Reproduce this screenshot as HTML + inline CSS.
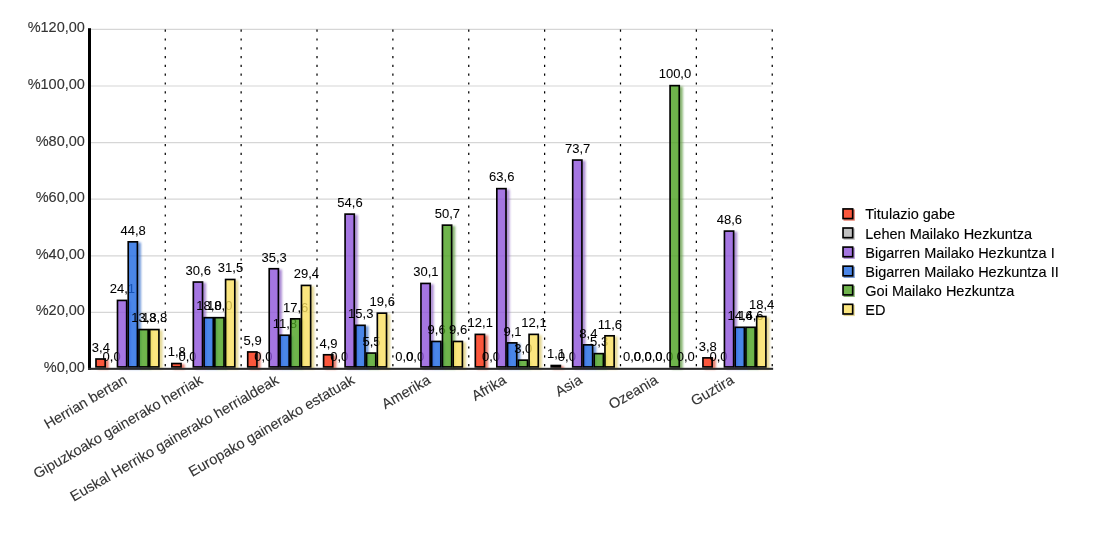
<!DOCTYPE html>
<html><head><meta charset="utf-8"><title>Chart</title>
<style>html,body{margin:0;padding:0;background:#fff;overflow:hidden}body{width:1100px;height:550px;font-family:"Liberation Sans",sans-serif}svg{display:block;will-change:transform;font-family:"Liberation Sans",sans-serif}text{font-family:"Liberation Sans",sans-serif}</style>
</head><body>
<svg width="1100" height="550" viewBox="0 0 1100 550">
<defs><filter id="bl" x="-60%" y="-20%" width="220%" height="140%"><feGaussianBlur stdDeviation="0.8"/></filter><clipPath id="cp"><rect x="0" y="0" width="1100" height="366.95"/></clipPath><filter id="bl2" x="-50%" y="-50%" width="200%" height="200%"><feGaussianBlur stdDeviation="0.6"/></filter></defs>
<rect width="1100" height="550" fill="#fff"/>
<g stroke="#d6d6d6" stroke-width="1.2">
<line x1="89.5" x2="771.53" y1="369" y2="369"/>
<line x1="89.5" x2="771.53" y1="312.4" y2="312.4"/>
<line x1="89.5" x2="771.53" y1="255.8" y2="255.8"/>
<line x1="89.5" x2="771.53" y1="199.2" y2="199.2"/>
<line x1="89.5" x2="771.53" y1="142.6" y2="142.6"/>
<line x1="89.5" x2="771.53" y1="86" y2="86"/>
<line x1="89.5" x2="771.53" y1="29.4" y2="29.4"/>
</g>
<g stroke="#000" stroke-width="1.25" stroke-dasharray="2.2 6.6">
<line x1="165.27" x2="165.27" y1="29.6" y2="368"/>
<line x1="241.14" x2="241.14" y1="29.6" y2="368"/>
<line x1="317.01" x2="317.01" y1="29.6" y2="368"/>
<line x1="392.88" x2="392.88" y1="29.6" y2="368"/>
<line x1="468.75" x2="468.75" y1="29.6" y2="368"/>
<line x1="544.62" x2="544.62" y1="29.6" y2="368"/>
<line x1="620.49" x2="620.49" y1="29.6" y2="368"/>
<line x1="696.36" x2="696.36" y1="29.6" y2="368"/>
<line x1="772.23" x2="772.23" y1="29.6" y2="368"/>
</g>
<g font-size="14.5" fill="#333" stroke="#333" stroke-width="0.12" text-anchor="end">
<text x="84.9" y="372">%0,00</text>
<text x="84.9" y="315.4">%20,00</text>
<text x="84.9" y="258.8">%40,00</text>
<text x="84.9" y="202.2">%60,00</text>
<text x="84.9" y="145.6">%80,00</text>
<text x="84.9" y="89">%100,00</text>
<text x="84.9" y="32.4">%120,00</text>
</g>
<g opacity="0.75" filter="url(#bl)" fill="#dc4c34">
<path d="M104.65 359.78H108.7V369.35H97.85V367.15H104.65Z"/>
<path d="M180.52 364.31H184.57V369.35H173.72V367.15H180.52Z"/>
<path d="M256.39 352.7H260.44V369.35H249.59V367.15H256.39Z"/>
<path d="M332.26 355.53H336.31V369.35H325.46V367.15H332.26Z"/>
<path d="M484 335.16H488.05V369.35H477.2V367.15H484Z"/>
<path d="M559.87 366.29H563.92V369.35H553.07V367.15H559.87Z"/>
<path d="M711.61 358.65H715.66V369.35H704.81V367.15H711.61Z"/>
</g>
<g stroke="#000" stroke-width="1.65" fill="#fa2d0b" fill-opacity="0.8">
<rect x="95.98" y="359" width="9.2" height="7.92"/>
<rect x="171.84" y="363.53" width="9.2" height="3.39"/>
<rect x="247.72" y="351.93" width="9.2" height="15"/>
<rect x="323.58" y="354.76" width="9.2" height="12.17"/>
<rect x="475.32" y="334.38" width="9.2" height="32.54"/>
<rect x="551.2" y="365.51" width="9.2" height="1.41"/>
<rect x="702.94" y="357.87" width="9.2" height="9.05"/>
</g>
<g font-size="13.0" fill="#000" stroke="#000" stroke-width="0.06" text-anchor="middle">
<text x="100.88" y="351.78">3,4</text>
<text x="176.75" y="356.31">1,8</text>
<text x="252.62" y="344.7">5,9</text>
<text x="328.49" y="347.53">4,9</text>
<text x="404.36" y="361.4">0,0</text>
<text x="480.23" y="327.16">12,1</text>
<text x="556.09" y="358.29">1,1</text>
<text x="631.96" y="361.4">0,0</text>
<text x="707.83" y="350.65">3,8</text>
</g>
<g opacity="0.75" filter="url(#bl)" fill="#a8a8a8">
</g>
<g stroke="#000" stroke-width="1.65" fill="#b0b0b0" fill-opacity="0.8">
</g>
<g font-size="13.0" fill="#000" stroke="#000" stroke-width="0.06" text-anchor="middle">
<text x="111.62" y="361.4">0,0</text>
<text x="187.5" y="361.4">0,0</text>
<text x="263.37" y="361.4">0,0</text>
<text x="339.24" y="361.4">0,0</text>
<text x="415.11" y="361.4">0,0</text>
<text x="490.98" y="361.4">0,0</text>
<text x="566.84" y="361.4">0,0</text>
<text x="642.71" y="361.4">0,0</text>
<text x="718.58" y="361.4">0,0</text>
</g>
<g opacity="0.75" filter="url(#bl)" fill="#9167c6">
<path d="M126.15 301.2H130.2V369.35H119.35V367.15H126.15Z"/>
<path d="M202.02 282.8H206.07V369.35H195.22V367.15H202.02Z"/>
<path d="M277.89 269.5H281.94V369.35H271.09V367.15H277.89Z"/>
<path d="M353.76 214.88H357.81V369.35H346.96V367.15H353.76Z"/>
<path d="M429.63 284.22H433.68V369.35H422.83V367.15H429.63Z"/>
<path d="M505.5 189.41H509.55V369.35H498.7V367.15H505.5Z"/>
<path d="M581.37 160.83H585.42V369.35H574.57V367.15H581.37Z"/>
<path d="M733.11 231.86H737.16V369.35H726.31V367.15H733.11Z"/>
</g>
<g stroke="#000" stroke-width="1.65" fill="#8e54db" fill-opacity="0.8">
<rect x="117.48" y="300.42" width="9.2" height="66.5"/>
<rect x="193.34" y="282.03" width="9.2" height="84.9"/>
<rect x="269.21" y="268.73" width="9.2" height="98.2"/>
<rect x="345.08" y="214.11" width="9.2" height="152.82"/>
<rect x="420.95" y="283.44" width="9.2" height="83.48"/>
<rect x="496.82" y="188.64" width="9.2" height="178.29"/>
<rect x="572.7" y="160.05" width="9.2" height="206.87"/>
<rect x="724.44" y="231.09" width="9.2" height="135.84"/>
</g>
<g font-size="13.0" fill="#000" stroke="#000" stroke-width="0.06" text-anchor="middle">
<text x="122.38" y="293.2">24,1</text>
<text x="198.25" y="274.8">30,6</text>
<text x="274.12" y="261.5">35,3</text>
<text x="349.99" y="206.88">54,6</text>
<text x="425.86" y="276.22">30,1</text>
<text x="501.73" y="181.41">63,6</text>
<text x="577.59" y="152.83">73,7</text>
<text x="653.46" y="361.4">0,0</text>
<text x="729.33" y="223.86">48,6</text>
</g>
<g opacity="0.75" filter="url(#bl)" fill="#4175cc">
<path d="M136.9 242.62H140.95V369.35H130.1V367.15H136.9Z"/>
<path d="M212.77 318.46H216.82V369.35H205.97V367.15H212.77Z"/>
<path d="M288.64 336.01H292.69V369.35H281.84V367.15H288.64Z"/>
<path d="M364.51 326.1H368.56V369.35H357.71V367.15H364.51Z"/>
<path d="M440.38 342.23H444.43V369.35H433.58V367.15H440.38Z"/>
<path d="M516.25 343.65H520.3V369.35H509.45V367.15H516.25Z"/>
<path d="M592.12 345.63H596.17V369.35H585.32V367.15H592.12Z"/>
<path d="M743.86 328.08H747.91V369.35H737.06V367.15H743.86Z"/>
</g>
<g stroke="#000" stroke-width="1.65" fill="#1d68e2" fill-opacity="0.8">
<rect x="128.22" y="241.84" width="9.2" height="125.08"/>
<rect x="204.09" y="317.69" width="9.2" height="49.24"/>
<rect x="279.96" y="335.23" width="9.2" height="31.69"/>
<rect x="355.83" y="325.33" width="9.2" height="41.6"/>
<rect x="431.7" y="341.46" width="9.2" height="25.47"/>
<rect x="507.57" y="342.87" width="9.2" height="24.05"/>
<rect x="583.45" y="344.85" width="9.2" height="22.07"/>
<rect x="735.19" y="327.31" width="9.2" height="39.62"/>
</g>
<g font-size="13.0" fill="#000" stroke="#000" stroke-width="0.06" text-anchor="middle">
<text x="133.13" y="234.62">44,8</text>
<text x="209" y="310.46">18,0</text>
<text x="284.87" y="328.01">11,8</text>
<text x="360.74" y="318.1">15,3</text>
<text x="436.61" y="334.23">9,6</text>
<text x="512.47" y="335.65">9,1</text>
<text x="588.34" y="337.63">8,4</text>
<text x="664.21" y="361.4">0,0</text>
<text x="740.08" y="320.08">14,6</text>
</g>
<g opacity="0.75" filter="url(#bl)" fill="#619e42">
<path d="M147.65 330.35H151.7V369.35H140.85V367.15H147.65Z"/>
<path d="M223.52 318.46H227.57V369.35H216.72V367.15H223.52Z"/>
<path d="M299.39 319.59H303.44V369.35H292.59V367.15H299.39Z"/>
<path d="M375.26 353.84H379.31V369.35H368.46V367.15H375.26Z"/>
<path d="M451.13 225.92H455.18V369.35H444.33V367.15H451.13Z"/>
<path d="M527 360.91H531.05V369.35H520.2V367.15H527Z"/>
<path d="M602.87 354.4H606.92V369.35H596.07V367.15H602.87Z"/>
<path d="M678.74 86.4H682.79V369.35H671.94V367.15H678.74Z"/>
<path d="M754.61 328.08H758.66V369.35H747.81V367.15H754.61Z"/>
</g>
<g stroke="#000" stroke-width="1.65" fill="#4ba11f" fill-opacity="0.8">
<rect x="138.97" y="329.57" width="9.2" height="37.35"/>
<rect x="214.84" y="317.69" width="9.2" height="49.24"/>
<rect x="290.71" y="318.82" width="9.2" height="48.11"/>
<rect x="366.58" y="353.06" width="9.2" height="13.86"/>
<rect x="442.45" y="225.14" width="9.2" height="141.78"/>
<rect x="518.33" y="360.13" width="9.2" height="6.79"/>
<rect x="594.2" y="353.63" width="9.2" height="13.3"/>
<rect x="670.07" y="85.63" width="9.2" height="281.3"/>
<rect x="745.94" y="327.31" width="9.2" height="39.62"/>
</g>
<g font-size="13.0" fill="#000" stroke="#000" stroke-width="0.06" text-anchor="middle">
<text x="143.88" y="322.35">13,8</text>
<text x="219.75" y="310.46">18,0</text>
<text x="295.62" y="311.59">17,6</text>
<text x="371.49" y="345.84">5,5</text>
<text x="447.36" y="217.92">50,7</text>
<text x="523.22" y="352.91">3,0</text>
<text x="599.09" y="346.4">5,3</text>
<text x="674.96" y="78.4">100,0</text>
<text x="750.83" y="320.08">14,6</text>
</g>
<g opacity="0.75" filter="url(#bl)" fill="#dcca6f">
<path d="M158.4 330.35H162.45V369.35H151.6V367.15H158.4Z"/>
<path d="M234.27 280.26H238.32V369.35H227.47V367.15H234.27Z"/>
<path d="M310.14 286.2H314.19V369.35H303.34V367.15H310.14Z"/>
<path d="M386.01 313.93H390.06V369.35H379.21V367.15H386.01Z"/>
<path d="M461.88 342.23H465.93V369.35H455.08V367.15H461.88Z"/>
<path d="M537.75 335.16H541.8V369.35H530.95V367.15H537.75Z"/>
<path d="M613.62 336.57H617.67V369.35H606.82V367.15H613.62Z"/>
<path d="M765.36 317.33H769.41V369.35H758.56V367.15H765.36Z"/>
</g>
<g stroke="#000" stroke-width="1.65" fill="#fae05f" fill-opacity="0.8">
<rect x="149.72" y="329.57" width="9.2" height="37.35"/>
<rect x="225.59" y="279.48" width="9.2" height="87.44"/>
<rect x="301.46" y="285.42" width="9.2" height="81.5"/>
<rect x="377.33" y="313.16" width="9.2" height="53.77"/>
<rect x="453.2" y="341.46" width="9.2" height="25.47"/>
<rect x="529.08" y="334.38" width="9.2" height="32.54"/>
<rect x="604.95" y="335.8" width="9.2" height="31.13"/>
<rect x="756.69" y="316.55" width="9.2" height="50.37"/>
</g>
<g font-size="13.0" fill="#000" stroke="#000" stroke-width="0.06" text-anchor="middle">
<text x="154.63" y="322.35">13,8</text>
<text x="230.5" y="272.26">31,5</text>
<text x="306.37" y="278.2">29,4</text>
<text x="382.24" y="305.93">19,6</text>
<text x="458.11" y="334.23">9,6</text>
<text x="533.97" y="327.16">12,1</text>
<text x="609.84" y="328.57">11,6</text>
<text x="685.71" y="361.4">0,0</text>
<text x="761.58" y="309.33">18,4</text>
</g>
<rect x="88" y="28.2" width="3" height="341.6" fill="#000"/>
<rect x="88" y="367.8" width="685.13" height="2.05" fill="#2b2b2b"/>
<g font-size="14.5" fill="#333" stroke="#333" stroke-width="0.12" text-anchor="end">
<text transform="translate(127.94,382.8) rotate(-30)">Herrian bertan</text>
<text transform="translate(203.81,382.8) rotate(-30)">Gipuzkoako gainerako herriak</text>
<text transform="translate(279.68,382.8) rotate(-30)">Euskal Herriko gainerako herrialdeak</text>
<text transform="translate(355.55,382.8) rotate(-30)">Europako gainerako estatuak</text>
<text transform="translate(431.42,382.8) rotate(-30)">Amerika</text>
<text transform="translate(507.29,382.8) rotate(-30)">Afrika</text>
<text transform="translate(583.15,382.8) rotate(-30)">Asia</text>
<text transform="translate(659.03,382.8) rotate(-30)">Ozeania</text>
<text transform="translate(734.89,382.8) rotate(-30)">Guztira</text>
</g>
<rect x="843.5" y="209.4" width="11.3" height="11.3" fill="#dc4c34" opacity="0.75" filter="url(#bl2)"/>
<rect x="843.03" y="208.92" width="9.65" height="9.65" fill="#fb573c" stroke="#000" stroke-width="1.65"/>
<text x="865.3" y="219.45" font-size="14.5" fill="#000" stroke="#000" stroke-width="0.12">Titulazio gabe</text>
<rect x="843.5" y="228.48" width="11.3" height="11.3" fill="#a8a8a8" opacity="0.75" filter="url(#bl2)"/>
<rect x="843.03" y="228" width="9.65" height="9.65" fill="#c0c0c0" stroke="#000" stroke-width="1.65"/>
<text x="865.3" y="238.53" font-size="14.5" fill="#000" stroke="#000" stroke-width="0.12">Lehen Mailako Hezkuntza</text>
<rect x="843.5" y="247.56" width="11.3" height="11.3" fill="#9167c6" opacity="0.75" filter="url(#bl2)"/>
<rect x="843.03" y="247.08" width="9.65" height="9.65" fill="#a576e2" stroke="#000" stroke-width="1.65"/>
<text x="865.3" y="257.61" font-size="14.5" fill="#000" stroke="#000" stroke-width="0.12">Bigarren Mailako Hezkuntza I</text>
<rect x="843.5" y="266.64" width="11.3" height="11.3" fill="#4175cc" opacity="0.75" filter="url(#bl2)"/>
<rect x="843.03" y="266.16" width="9.65" height="9.65" fill="#4a86e8" stroke="#000" stroke-width="1.65"/>
<text x="865.3" y="276.69" font-size="14.5" fill="#000" stroke="#000" stroke-width="0.12">Bigarren Mailako Hezkuntza II</text>
<rect x="843.5" y="285.72" width="11.3" height="11.3" fill="#619e42" opacity="0.75" filter="url(#bl2)"/>
<rect x="843.03" y="285.24" width="9.65" height="9.65" fill="#6fb44c" stroke="#000" stroke-width="1.65"/>
<text x="865.3" y="295.77" font-size="14.5" fill="#000" stroke="#000" stroke-width="0.12">Goi Mailako Hezkuntza</text>
<rect x="843.5" y="304.8" width="11.3" height="11.3" fill="#dcca6f" opacity="0.75" filter="url(#bl2)"/>
<rect x="843.03" y="304.32" width="9.65" height="9.65" fill="#fbe67f" stroke="#000" stroke-width="1.65"/>
<text x="865.3" y="314.85" font-size="14.5" fill="#000" stroke="#000" stroke-width="0.12">ED</text>
</svg>
</body></html>
